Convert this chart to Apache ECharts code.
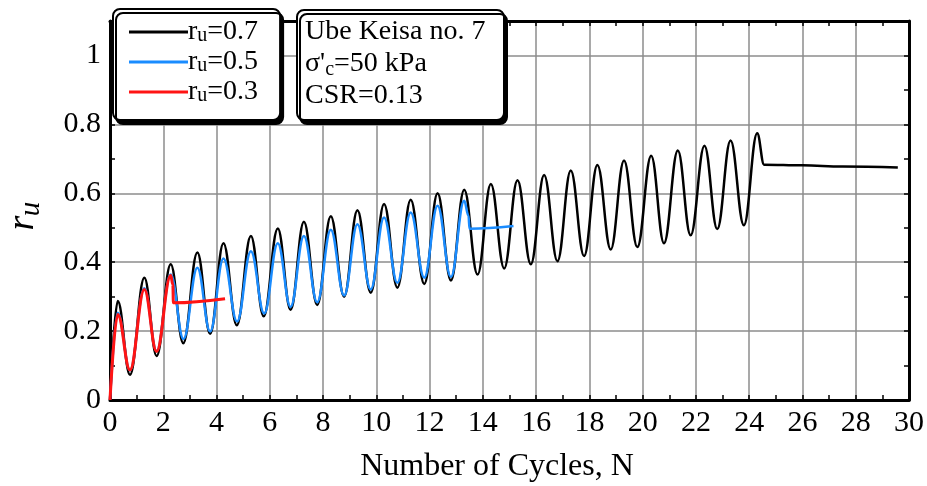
<!DOCTYPE html>
<html><head><meta charset="utf-8">
<script src="https://cdn.jsdelivr.net/npm/echarts@6/dist/echarts.min.js"></script>
<style>html,body{margin:0;padding:0;background:#fff}#c{width:927px;height:486px}</style>
</head><body><div id="c"></div>
<script>
// ---- data (peaks / troughs / transitions) ----
const blackN  = [0, 0.29, 0.75, 1.29, 1.75, 2.28, 2.75, 3.28, 3.76, 4.26, 4.76, 5.29, 5.77, 6.3, 6.78, 7.28, 7.78, 8.29, 8.79, 9.29, 9.79, 10.29, 10.79, 11.29, 11.8, 12.3, 12.8, 13.3, 13.8, 14.3, 14.8, 15.3, 15.8, 16.3, 16.8, 17.3, 17.8, 18.3, 18.8, 19.3, 19.8, 20.32, 20.8, 21.32, 21.8, 22.32, 22.8, 23.3, 23.8, 24.3, 24.56, 26.0, 27.5, 29.58];
const blackRu = [0, 0.287, 0.073, 0.355, 0.128, 0.394, 0.165, 0.428, 0.192, 0.455, 0.217, 0.476, 0.243, 0.498, 0.262, 0.517, 0.276, 0.533, 0.300, 0.551, 0.311, 0.569, 0.326, 0.581, 0.337, 0.600, 0.347, 0.610, 0.364, 0.627, 0.382, 0.638, 0.394, 0.653, 0.403, 0.666, 0.418, 0.682, 0.437, 0.695, 0.444, 0.709, 0.455, 0.724, 0.478, 0.738, 0.496, 0.753, 0.507, 0.774, 0.683, 0.681, 0.678, 0.675];

const blueN  = [0, 0.29, 0.75, 1.29, 1.75, 2.28, 2.76, 3.28, 3.76, 4.26, 4.77, 5.29, 5.79, 6.3, 6.78, 7.28, 7.78, 8.29, 8.79, 9.29, 9.79, 10.29, 10.79, 11.29, 11.8, 12.3, 12.8, 13.3, 13.46, 13.5, 15.15];
const blueRu = [0, 0.253, 0.086, 0.324, 0.142, 0.364, 0.177, 0.384, 0.199, 0.411, 0.228, 0.432, 0.251, 0.455, 0.270, 0.476, 0.284, 0.494, 0.303, 0.510, 0.321, 0.530, 0.340, 0.544, 0.355, 0.564, 0.357, 0.578, 0.535, 0.497, 0.505];

const redN  = [0, 0.29, 0.75, 1.29, 1.75, 2.28, 2.36, 2.38, 4.32];
const redRu = [0, 0.248, 0.087, 0.321, 0.141, 0.361, 0.335, 0.282, 0.294];

const seriesLabels = ['0.7', '0.5', '0.3'];
const infoLines = ['Ube Keisa no. 7', '50 kPa', 'CSR=0.13'];
const xTitle = 'Number of Cycles, N';
const yTitle = ['r', 'u'];

const FONT = 'Liberation Serif';
const zip = (a, b) => a.map((v, i) => [v, b[i]]);

const chart = echarts.init(document.getElementById('c'), null, {renderer: 'canvas'});

const baseY = {type: 'value', min: 0, max: 1.1};
const baseX = {type: 'value', min: 0, max: 30};
const tickAxisCommon = {
  axisLabel: {show: false}, splitLine: {show: false},
  axisTick: {show: true, inside: true, length: 5, lineStyle: {color: '#000', width: 1.5}}
};

const option = {
  backgroundColor: '#fff',
  animation: false,
  grid: {left: 110, right: 18, top: 21, bottom: 86, containLabel: false, outerBoundsMode: 'none'},
  title: {
    text: '{a|' + infoLines[0] + '}\n{a|σ\'}{b|c}{a|=' + infoLines[1] + '}\n{a|' + infoLines[2] + '}',
    left: 297, top: 10, padding: [6, 19, 8, 8],
    backgroundColor: '#fff', borderColor: '#000', borderWidth: 2, borderRadius: 7,
    shadowColor: '#000', shadowOffsetX: 3, shadowOffsetY: 4, shadowBlur: 0,
    textStyle: {
      fontFamily: FONT, fontSize: 28, fontWeight: 'normal', color: '#000', lineHeight: 32,
      rich: {
        a: {fontFamily: FONT, fontSize: 28, lineHeight: 32, color: '#000'},
        b: {fontFamily: FONT, fontSize: 20, lineHeight: 18, verticalAlign: 'bottom', color: '#000'}
      }
    }
  },
  legend: {
    orient: 'vertical', left: 113, top: 9, padding: [9, 22, 14, 16],
    icon: 'rect', itemWidth: 59, itemHeight: 3, itemGap: 2,
    backgroundColor: '#fff', borderColor: '#000', borderWidth: 2, borderRadius: 7,
    shadowColor: '#000', shadowOffsetX: 3, shadowOffsetY: 4, shadowBlur: 0,
    data: seriesLabels.map(l => 'ru=' + l),
    formatter: name => '{a|r}{b|u}{a|=' + name.slice(3) + '}',
    textStyle: {
      fontFamily: FONT, fontSize: 28, color: '#000', padding: [0, 0, 0, -5],
      rich: {
        a: {fontFamily: FONT, fontSize: 28, lineHeight: 28, color: '#000'},
        b: {fontFamily: FONT, fontSize: 20, lineHeight: 16, verticalAlign: 'bottom', color: '#000'}
      }
    }
  },
  graphic: [
    {type: 'text', x: 23, y: 223, rotation: Math.PI / 2, silent: true,
     style: {text: yTitle[0], fontFamily: FONT, fontSize: 38, fontStyle: 'italic', fill: '#000', align: 'center', verticalAlign: 'middle'}},
    {type: 'text', x: 31, y: 209, rotation: Math.PI / 2, silent: true,
     style: {text: yTitle[1], fontFamily: FONT, fontSize: 29, fontStyle: 'italic', fill: '#000', align: 'center', verticalAlign: 'middle'}}
  ],
  xAxis: [
    Object.assign({}, baseX, {
      position: 'bottom', interval: 2,
      axisLine: {onZero: false, lineStyle: {color: '#000', width: 3}},
      axisTick: {show: false},
      axisLabel: {fontFamily: FONT, fontSize: 30, color: '#000', margin: 8},
      splitLine: {show: true, lineStyle: {color: '#8c8c8c', width: 1.5}},
      name: xTitle, nameLocation: 'middle', nameGap: 51,
      nameTextStyle: {fontFamily: FONT, fontSize: 32, color: '#000', padding: [0, 25, 0, 0]}
    }),
    Object.assign({}, baseX, tickAxisCommon, {position: 'bottom', interval: 1, axisLine: {show: false, onZero: false}}),
    Object.assign({}, baseX, tickAxisCommon, {position: 'top', interval: 1, axisLine: {show: true, onZero: false, lineStyle: {color: '#000', width: 3}}})
  ],
  yAxis: [
    Object.assign({}, baseY, {
      position: 'left', interval: 0.2,
      axisLine: {onZero: false, lineStyle: {color: '#000', width: 3}},
      axisTick: {show: false},
      axisLabel: {fontFamily: FONT, fontSize: 30, color: '#000', margin: 9, showMaxLabel: false},
      splitLine: {show: true, lineStyle: {color: '#8c8c8c', width: 1.5}}
    }),
    Object.assign({}, baseY, tickAxisCommon, {position: 'left', interval: 0.1, axisLine: {show: false, onZero: false}}),
    Object.assign({}, baseY, tickAxisCommon, {position: 'right', interval: 0.1, axisLine: {show: true, onZero: false, lineStyle: {color: '#000', width: 3}}})
  ],
  series: [
    {name: 'ru=' + seriesLabels[0], type: 'line', data: zip(blackN, blackRu), symbol: 'none', showSymbol: false,
     smooth: 0.4, smoothMonotone: 'x',
     lineStyle: {color: '#000', width: 2.5}, itemStyle: {color: '#000'}, z: 3},
    {name: 'ru=' + seriesLabels[1], type: 'line', data: zip(blueN, blueRu), symbol: 'none', showSymbol: false,
     smooth: 0.4, smoothMonotone: 'x',
     lineStyle: {color: '#1a8cff', width: 2.5}, itemStyle: {color: '#1a8cff'}, z: 4},
    {name: 'ru=' + seriesLabels[2], type: 'line', data: zip(redN, redRu), symbol: 'none', showSymbol: false,
     smooth: 0.4, smoothMonotone: 'x',
     lineStyle: {color: '#ff1414', width: 3}, itemStyle: {color: '#ff1414'}, z: 5}
  ]
};
chart.setOption(option);
</script>
</body></html>
